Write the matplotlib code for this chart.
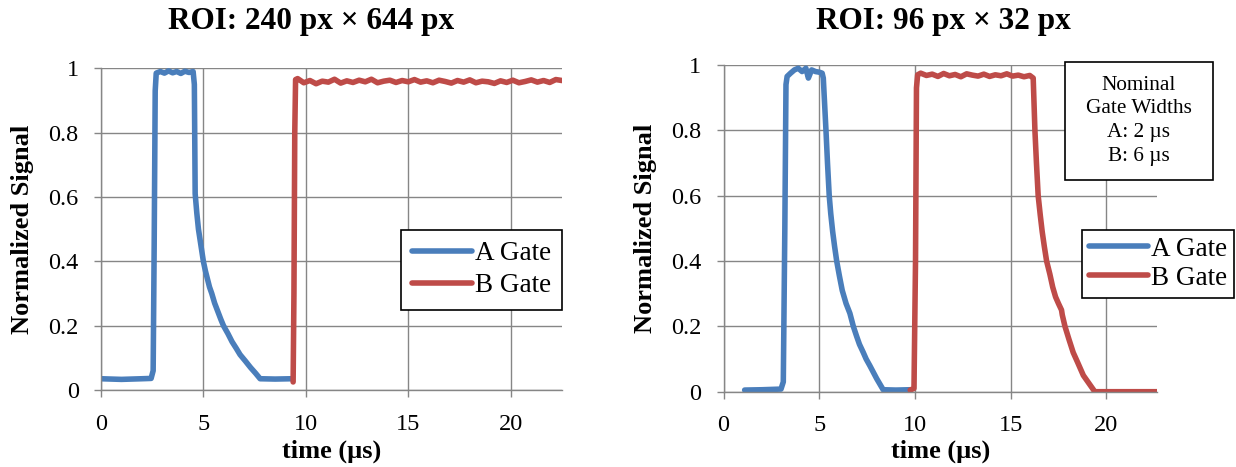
import matplotlib
matplotlib.use("Agg")
import matplotlib.pyplot as plt
from matplotlib.patches import Rectangle

plt.rcParams["font.family"] = ["Liberation Serif", "DejaVu Serif"]

# ── Data ─────────────────────────────────────────────────────────────────────
# left panel: ROI 240 px x 644 px
t_a1 = [0.0, 1.0, 2.0, 2.45, 2.55, 2.6, 2.65, 2.7, 2.9, 3.1, 3.3, 3.5, 3.7, 3.9,
        4.1, 4.3, 4.5, 4.56, 4.6, 4.68, 4.76, 4.88, 5.0, 5.1, 5.2, 5.3, 5.41,
        5.55, 5.7, 5.85, 5.98, 6.2, 6.4, 6.6, 6.79, 7.05, 7.3, 7.55, 7.77, 8.5,
        9.32]
y_a1 = [0.035, 0.033, 0.035, 0.036, 0.06, 0.45, 0.93, 0.985, 0.99, 0.985, 0.992,
        0.986, 0.99, 0.984, 0.991, 0.987, 0.99, 0.95, 0.61, 0.55, 0.50, 0.45,
        0.40, 0.37, 0.345, 0.32, 0.30, 0.27, 0.245, 0.22, 0.20, 0.175, 0.15,
        0.13, 0.11, 0.09, 0.07, 0.052, 0.035, 0.034, 0.035]

t_b1 = [9.38, 9.42, 9.46, 9.5, 9.6, 9.9, 10.2, 10.5, 10.8, 11.1, 11.4, 11.7,
        12.0, 12.3, 12.6, 12.9, 13.2, 13.5, 13.8, 14.1, 14.4, 14.7, 15.0, 15.3,
        15.6, 15.9, 16.2, 16.5, 16.8, 17.1, 17.4, 17.7, 18.0, 18.3, 18.6, 18.9,
        19.2, 19.5, 19.8, 20.1, 20.4, 20.7, 21.0, 21.3, 21.6, 21.9, 22.2, 22.5]
y_b1 = [0.025, 0.30, 0.80, 0.965, 0.968, 0.955, 0.962, 0.952, 0.960, 0.957,
        0.966, 0.954, 0.961, 0.956, 0.963, 0.958, 0.966, 0.955, 0.960, 0.963,
        0.956, 0.962, 0.958, 0.965, 0.957, 0.961, 0.955, 0.963, 0.959, 0.954,
        0.962, 0.957, 0.964, 0.955, 0.960, 0.958, 0.953, 0.961, 0.956, 0.963,
        0.955, 0.959, 0.964, 0.957, 0.962, 0.956, 0.965, 0.962]

# right panel: ROI 96 px x 32 px
t_a2 = [1.1, 2.0, 3.0, 3.12, 3.2, 3.26, 3.32, 3.5, 3.7, 3.9, 4.1, 4.3, 4.43,
        4.6, 4.8, 5.0, 5.15, 5.21, 5.28, 5.35, 5.43, 5.52, 5.6, 5.7, 5.8, 5.91,
        6.05, 6.2, 6.4, 6.6, 6.78, 6.95, 7.1, 7.3, 7.45, 7.64, 8.0, 8.34, 9.0,
        9.75]
y_a2 = [0.005, 0.006, 0.008, 0.03, 0.50, 0.94, 0.965, 0.975, 0.985, 0.99, 0.98,
        0.99, 0.96, 0.985, 0.98, 0.978, 0.975, 0.96, 0.88, 0.80, 0.70, 0.60,
        0.545, 0.49, 0.445, 0.40, 0.355, 0.31, 0.27, 0.24, 0.20, 0.17, 0.145,
        0.12, 0.10, 0.08, 0.04, 0.006, 0.005, 0.006]

t_b2 = [9.75, 9.95, 10.03, 10.08, 10.14, 10.3, 10.6, 10.9, 11.2, 11.5, 11.8,
        12.1, 12.4, 12.7, 13.0, 13.3, 13.6, 13.9, 14.2, 14.5, 14.8, 15.1, 15.4,
        15.7, 16.0, 16.18, 16.27, 16.35, 16.44, 16.55, 16.65, 16.76, 16.88,
        17.05, 17.2, 17.35, 17.5, 17.66, 17.7, 17.84, 18.05, 18.27, 18.5, 18.8,
        19.1, 19.4, 20.5, 21.5, 22.65]
y_b2 = [0.005, 0.01, 0.40, 0.93, 0.97, 0.975, 0.968, 0.972, 0.965, 0.974, 0.967,
        0.971, 0.964, 0.973, 0.969, 0.966, 0.972, 0.965, 0.970, 0.967, 0.973,
        0.966, 0.969, 0.964, 0.968, 0.96, 0.80, 0.70, 0.60, 0.54, 0.49, 0.445,
        0.40, 0.36, 0.32, 0.29, 0.27, 0.25, 0.235, 0.20, 0.16, 0.12, 0.09,
        0.05, 0.025, 0.0, 0.0, 0.0, 0.0]

titles = ["ROI: 240 px \u00d7 644 px", "ROI: 96 px \u00d7 32 px"]
legend_labels = ["A Gate", "B Gate"]
note_text = "Nominal\nGate Widths\nA: 2 \u00b5s\nB: 6 \u00b5s"

# ── Style ─────────────────────────────────────────────────────────────────────
BLUE = "#4A7EBB"
RED = "#BE4B48"
GRID = "#868686"

W, H = 1236, 467
fig = plt.figure(figsize=(W / 100, H / 100), dpi=100)
fig.patch.set_facecolor("white")


def px_axes(x0, x1, y_top, y_bot):
    return fig.add_axes([x0 / W, 1 - y_bot / H, (x1 - x0) / W, (y_bot - y_top) / H])


ax1 = px_axes(100.9, 562, 68.3, 390)
ax2 = px_axes(723.6, 1157, 65, 391.7)

for ax, xmax in [(ax1, 22.5), (ax2, 22.65)]:
    ax.set_xlim(0, xmax)
    ax.set_ylim(0, 1)
    ax.set_xticks([0, 5, 10, 15, 20])
    ax.set_yticks([0, 0.2, 0.4, 0.6, 0.8, 1])
    ax.set_yticklabels(["0", "0.2", "0.4", "0.6", "0.8", "1"])
    ax.grid(True, color=GRID, lw=1.0)
    ax.set_axisbelow(True)
    for s in ["top", "right"]:
        ax.spines[s].set_visible(False)
    for s in ["left", "bottom"]:
        ax.spines[s].set_color(GRID)
        ax.spines[s].set_linewidth(1.0)
    ax.tick_params(axis="both", direction="out", length=5, width=1.0, color=GRID,
                   labelsize=17.5)
    ax.tick_params(axis="x", pad=12)
    ax.tick_params(axis="y", pad=11)
    ax.set_xlabel("time (\u00b5s)", fontsize=19, fontweight="bold")
    ax.set_ylabel("Normalized Signal", fontsize=19, fontweight="bold")

ax1.xaxis.set_label_coords(0.5, -0.155)
ax2.xaxis.set_label_coords(0.5, -0.146)
ax1.yaxis.set_label_coords(-0.145, 0.5)
ax2.yaxis.set_label_coords(-0.154, 0.5)

for ax, ta, ya, tb, yb in [(ax1, t_a1, y_a1, t_b1, y_b1),
                           (ax2, t_a2, y_a2, t_b2, y_b2)]:
    ax.plot(ta, ya, color=BLUE, lw=4, label=legend_labels[0],
            solid_capstyle="round", solid_joinstyle="round")
    ax.plot(tb, yb, color=RED, lw=4, label=legend_labels[1],
            solid_capstyle="round", solid_joinstyle="round")

leg_kw = dict(fontsize=19.5, frameon=True, fancybox=False, borderaxespad=0,
              handlelength=2.2, handletextpad=0.1, loc="upper right")
leg1 = ax1.legend(bbox_to_anchor=(1.0, 0.497), labelspacing=0.25, borderpad=0.42,
                  **leg_kw)
leg2 = ax2.legend(bbox_to_anchor=(1.177, 0.495), labelspacing=0.15, borderpad=0.25,
                  **leg_kw)
for leg in (leg1, leg2):
    leg.get_frame().set_edgecolor("black")
    leg.get_frame().set_linewidth(1.2)
    leg.get_frame().set_alpha(1)

# text box with nominal widths
ax2.add_patch(Rectangle((0.788, 0.648), 0.3415, 0.361, transform=ax2.transAxes,
                        facecolor="white", edgecolor="black", lw=1.2,
                        clip_on=False, zorder=5))
ax2.text(0.958, 0.829, note_text, transform=ax2.transAxes, ha="center",
         va="center", fontsize=15.3, linespacing=1.35, zorder=6)

fig.text(311 / W, 1 - 21 / H, titles[0], ha="center", va="center",
         fontsize=22.5, fontweight="bold")
fig.text(943 / W, 1 - 21 / H, titles[1], ha="center", va="center",
         fontsize=22.5, fontweight="bold")

fig.savefig("out.png", dpi=100, facecolor="white")
